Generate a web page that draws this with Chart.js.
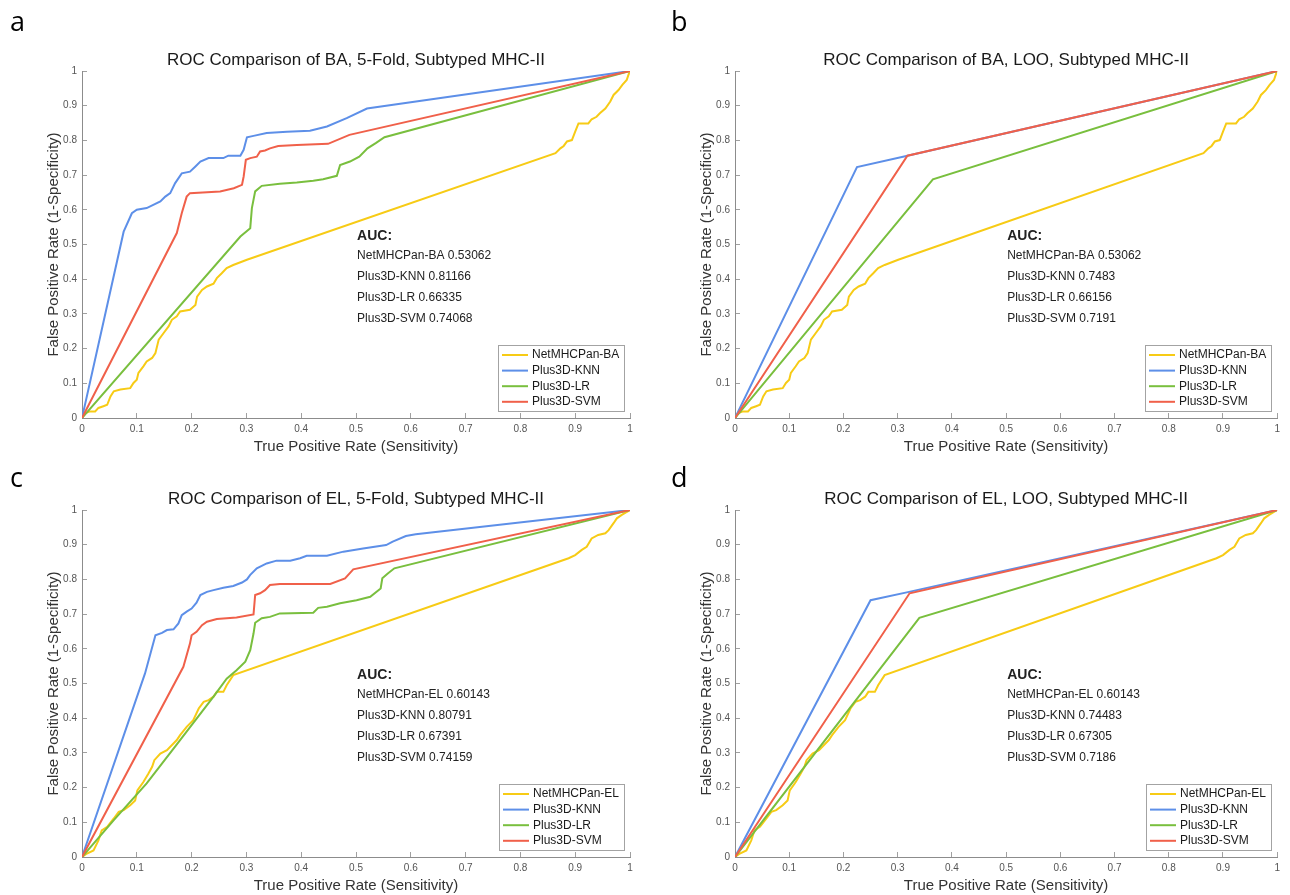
<!DOCTYPE html>
<html>
<head>
<meta charset="utf-8">
<title>ROC Comparison, Subtyped MHC-II</title>
<script src="https://cdn.jsdelivr.net/npm/chart.js@4.4.1/dist/chart.umd.min.js"></script>
<style>
    html, body { margin: 0; padding: 0; background: #fff; }
    #page { position: relative; width: 1290px; height: 895px; overflow: hidden; }
    #page canvas { position: absolute; }
    .letter {
        position: absolute;
        font-family: 'Open Sans', sans-serif;
        font-size: 27px;
        line-height: 1;
        color: #000;
    }
</style>
</head>
<body>
<div id="page">
    <canvas id="roc-a" width="645" height="460" style="left:0;top:0"></canvas>
    <canvas id="roc-b" width="645" height="460" style="left:645px;top:0"></canvas>
    <canvas id="roc-c" width="645" height="455" style="left:0;top:440px"></canvas>
    <canvas id="roc-d" width="645" height="455" style="left:645px;top:440px"></canvas>
    <div class="letter" style="left:10px;top:7px">a</div>
    <div class="letter" style="left:671px;top:7px">b</div>
    <div class="letter" style="left:10px;top:463px">c</div>
    <div class="letter" style="left:671px;top:463px">d</div>
</div>

<script>
// ---- data: [true positive rate, false positive rate] ----

const panelTitles = [
    'ROC Comparison of BA, 5-Fold, Subtyped MHC-II',
    'ROC Comparison of BA, LOO, Subtyped MHC-II',
    'ROC Comparison of EL, 5-Fold, Subtyped MHC-II',
    'ROC Comparison of EL, LOO, Subtyped MHC-II'
];

const modelsBA = ['NetMHCPan-BA', 'Plus3D-KNN', 'Plus3D-LR', 'Plus3D-SVM'];
const modelsEL = ['NetMHCPan-EL', 'Plus3D-KNN', 'Plus3D-LR', 'Plus3D-SVM'];

const auc5FoldBA = [0.53062, 0.81166, 0.66335, 0.74068];
const aucLooBA = [0.53062, 0.7483, 0.66156, 0.7191];
const auc5FoldEL = [0.60143, 0.80791, 0.67391, 0.74159];
const aucLooEL = [0.60143, 0.74483, 0.67305, 0.7186];

const tickValues = [0, 0.1, 0.2, 0.3, 0.4, 0.5, 0.6, 0.7, 0.8, 0.9, 1];

// NetMHCPan-BA (same curve in a and b)
const netMhcPanBA = [
    [0, 0], [0.006, 0.014], [0.015, 0.019], [0.024, 0.019], [0.03, 0.029], [0.039, 0.034],
    [0.046, 0.038], [0.052, 0.062], [0.058, 0.077], [0.07, 0.082], [0.088, 0.086], [0.094, 0.101],
    [0.1, 0.11], [0.103, 0.13], [0.112, 0.149], [0.118, 0.163], [0.128, 0.173], [0.134, 0.187],
    [0.14, 0.226], [0.149, 0.245], [0.158, 0.264], [0.164, 0.283], [0.173, 0.293], [0.179, 0.307],
    [0.197, 0.312], [0.207, 0.326], [0.21, 0.35], [0.219, 0.369], [0.228, 0.379], [0.24, 0.387],
    [0.246, 0.403], [0.255, 0.417], [0.264, 0.432], [0.276, 0.441], [0.301, 0.456], [0.864, 0.763],
    [0.873, 0.777], [0.879, 0.784], [0.885, 0.797], [0.894, 0.801], [0.9, 0.825], [0.906, 0.849],
    [0.924, 0.849], [0.93, 0.861], [0.939, 0.868], [0.945, 0.878], [0.955, 0.892], [0.964, 0.912],
    [0.97, 0.931], [0.979, 0.945], [0.986, 0.96], [0.994, 0.974], [0.997, 0.988], [1, 1]
];

const knn5FoldBA = [
    [0, 0], [0.076, 0.537], [0.091, 0.59], [0.1, 0.6], [0.118, 0.605], [0.143, 0.624],
    [0.152, 0.638], [0.161, 0.648], [0.17, 0.677], [0.182, 0.705], [0.197, 0.71], [0.207, 0.725],
    [0.216, 0.739], [0.231, 0.749], [0.258, 0.749], [0.267, 0.756], [0.289, 0.756], [0.295, 0.773],
    [0.301, 0.809], [0.313, 0.813], [0.337, 0.821], [0.374, 0.825], [0.416, 0.828], [0.447, 0.84],
    [0.483, 0.864], [0.52, 0.892], [1, 1]
];

const lr5FoldBA = [
    [0, 0], [0.289, 0.523], [0.307, 0.547], [0.31, 0.605], [0.316, 0.653], [0.328, 0.669],
    [0.361, 0.675], [0.392, 0.679], [0.422, 0.684], [0.44, 0.688], [0.465, 0.698], [0.471, 0.729],
    [0.489, 0.739], [0.506, 0.753], [0.521, 0.777], [0.536, 0.792], [0.552, 0.809], [1, 1]
];

const svm5FoldBA = [
    [0, 0], [0.173, 0.533], [0.182, 0.59], [0.191, 0.638], [0.197, 0.648], [0.252, 0.653],
    [0.277, 0.662], [0.292, 0.672], [0.295, 0.696], [0.299, 0.744], [0.307, 0.749], [0.319, 0.753],
    [0.325, 0.768], [0.334, 0.771], [0.343, 0.777], [0.358, 0.784], [0.392, 0.787], [0.449, 0.79],
    [0.488, 0.816], [1, 1]
];

const knnLooBA = [[0, 0], [0.225, 0.723], [0.318, 0.756], [1, 1]];
const lrLooBA = [[0, 0], [0.365, 0.688], [1, 1]];
const svmLooBA = [[0, 0], [0.318, 0.756], [1, 1]];

// NetMHCPan-EL (same curve in c and d)
const netMhcPanEL = [
    [0, 0], [0.009, 0.01], [0.021, 0.019], [0.03, 0.048], [0.036, 0.077], [0.046, 0.087],
    [0.058, 0.111], [0.067, 0.13], [0.076, 0.135], [0.088, 0.149], [0.097, 0.163], [0.101, 0.192],
    [0.112, 0.216], [0.121, 0.24], [0.128, 0.26], [0.132, 0.279], [0.143, 0.298], [0.155, 0.308],
    [0.173, 0.337], [0.179, 0.351], [0.191, 0.375], [0.203, 0.394], [0.213, 0.428], [0.222, 0.447],
    [0.231, 0.452], [0.24, 0.462], [0.246, 0.476], [0.258, 0.476], [0.264, 0.495], [0.276, 0.524],
    [0.888, 0.861], [0.9, 0.87], [0.912, 0.885], [0.921, 0.894], [0.93, 0.918], [0.942, 0.928],
    [0.955, 0.933], [0.961, 0.942], [0.97, 0.962], [0.976, 0.976], [0.985, 0.986], [1, 1]
];

const knn5FoldEL = [
    [0, 0], [0.115, 0.529], [0.134, 0.639], [0.146, 0.646], [0.155, 0.654], [0.167, 0.656],
    [0.176, 0.673], [0.182, 0.697], [0.191, 0.707], [0.2, 0.716], [0.209, 0.733], [0.216, 0.755],
    [0.228, 0.764], [0.24, 0.769], [0.258, 0.776], [0.276, 0.781], [0.292, 0.791], [0.301, 0.8],
    [0.307, 0.813], [0.319, 0.832], [0.337, 0.846], [0.355, 0.854], [0.38, 0.854], [0.398, 0.861],
    [0.41, 0.868], [0.447, 0.868], [0.477, 0.88], [0.513, 0.889], [0.555, 0.899], [0.567, 0.909],
    [0.591, 0.925], [0.609, 0.93], [1, 1]
];

const lr5FoldEL = [
    [0, 0], [0.058, 0.106], [0.118, 0.212], [0.179, 0.337], [0.24, 0.462], [0.264, 0.514],
    [0.282, 0.538], [0.298, 0.563], [0.307, 0.596], [0.313, 0.644], [0.316, 0.675], [0.328, 0.688],
    [0.343, 0.692], [0.361, 0.702], [0.422, 0.704], [0.431, 0.718], [0.447, 0.721], [0.471, 0.731],
    [0.501, 0.74], [0.526, 0.75], [0.545, 0.774], [0.548, 0.803], [0.558, 0.817], [0.57, 0.832],
    [1, 1]
];

const svm5FoldEL = [
    [0, 0], [0.185, 0.548], [0.197, 0.615], [0.2, 0.639], [0.209, 0.649], [0.219, 0.668],
    [0.228, 0.678], [0.246, 0.686], [0.282, 0.69], [0.313, 0.699], [0.316, 0.755], [0.325, 0.76],
    [0.334, 0.769], [0.343, 0.784], [0.361, 0.787], [0.453, 0.787], [0.48, 0.803], [0.495, 0.829],
    [1, 1]
];

const knnLooEL = [[0, 0], [0.25, 0.74], [0.321, 0.764], [1, 1]];
const lrLooEL = [[0, 0], [0.34, 0.689], [1, 1]];
const svmLooEL = [[0, 0], [0.322, 0.76], [1, 1]];

// ---- styling ----

const seriesColors = ['#F7CB15', '#5D8FE8', '#79BF3E', '#F0604A'];
const FONT = '"Liberation Sans", Arial, Helvetica, sans-serif';
Chart.defaults.font.family = FONT;

/**
 * AUC summary written inside the plot, anchored at a data position
 */
const aucNotePlugin = {
    id: 'aucNote',
    afterDraw(chart, args, opts) {
        const { ctx, scales: { x, y } } = chart;
        const left = x.getPixelForValue(opts.at[0]);
        const top = y.getPixelForValue(opts.at[1]);

        ctx.save();
        ctx.fillStyle = '#222';
        ctx.textAlign = 'left';
        ctx.textBaseline = 'middle';
        ctx.font = 'bold 14px ' + FONT;
        ctx.fillText('AUC:', left, top);
        ctx.font = '12px ' + FONT;
        opts.lines.forEach((line, i) => ctx.fillText(line, left, top + 20 + i * 21));
        ctx.restore();
    }
};

/**
 * Boxed legend in the lower right corner of the plot
 */
const boxLegendPlugin = {
    id: 'boxLegend',
    afterDraw(chart) {
        const { ctx, chartArea } = chart;
        const items = chart.data.datasets;
        const rowH = 15.6;

        ctx.save();
        ctx.font = '12px ' + FONT;
        const textW = Math.max(...items.map(d => ctx.measureText(d.label).width));
        const w = Math.round(34 + textW + 5);
        const h = Math.round(items.length * rowH + 3.5);
        const bx = Math.round(chartArea.right - 6 - w);
        const by = Math.round(chartArea.bottom - 7 - h);

        ctx.fillStyle = '#fff';
        ctx.fillRect(bx, by, w, h);
        ctx.strokeStyle = '#a3a3a3';
        ctx.lineWidth = 1;
        ctx.strokeRect(bx + 0.5, by + 0.5, w, h);

        items.forEach((d, i) => {
            const cy = by + 2.2 + rowH * (i + 0.5);
            ctx.strokeStyle = d.borderColor;
            ctx.lineWidth = 2;
            ctx.beginPath();
            ctx.moveTo(bx + 4, cy);
            ctx.lineTo(bx + 30, cy);
            ctx.stroke();
            ctx.fillStyle = '#1a1a1a';
            ctx.textAlign = 'left';
            ctx.textBaseline = 'middle';
            ctx.fillText(d.label, bx + 34, cy);
        });
        ctx.restore();
    }
};

/**
 * Shared axis settings (MATLAB look: ticks point inward, no box)
 */
function axisOptions(titleText, titlePadding, fitSize, horizontal) {
    return {
        type: 'linear',
        min: 0,
        max: 1,
        afterBuildTicks: (scale) => {
            scale.ticks = tickValues.map(v => ({ value: v }));
        },
        ticks: {
            color: '#555',
            font: { size: 10 },
            padding: 10,
            maxRotation: 0,
            autoSkip: false,
            callback: (v) => String(Math.round(v * 10) / 10)
        },
        grid: {
            drawOnChartArea: false,
            drawTicks: true,
            tickLength: -5,
            color: '#a0a0a0'
        },
        border: { display: true, color: '#8c8c8c', width: 1 },
        title: {
            display: true,
            text: titleText,
            color: '#333',
            font: { size: 15 },
            padding: titlePadding
        },
        afterFit: (scale) => {
            if (horizontal) scale.height = fitSize;
            else scale.width = fitSize;
        }
    };
}

/**
 * Build one ROC panel
 */
function buildRocChart(canvasId, title, models, aucValues, curves, layout) {
    const ctx = document.getElementById(canvasId);

    const datasets = curves.map((points, i) => ({
        label: models[i],
        data: points.map(([x, y]) => ({ x, y })),
        borderColor: seriesColors[i],
        backgroundColor: seriesColors[i],
        borderWidth: 2,
        pointRadius: 0,
        tension: 0,
        fill: false,
        order: curves.length - i   // later series drawn on top, like MATLAB
    }));

    return new Chart(ctx, {
        type: 'line',
        data: { datasets },
        plugins: [aucNotePlugin, boxLegendPlugin],
        options: {
            responsive: false,
            animation: false,
            events: [],
            layout: { padding: { left: 0, top: 0, right: layout.rightPad, bottom: 0 } },
            plugins: {
                legend: { display: false },
                tooltip: { enabled: false },
                title: {
                    display: true,
                    text: title,
                    fullSize: false,
                    color: '#1a1a1a',
                    font: { size: 17, weight: 'normal' },
                    padding: { top: layout.titleTop, bottom: 0 }
                },
                aucNote: {
                    at: [0.502, 0.524],
                    lines: models.map((m, i) => `${m} ${aucValues[i]}`)
                }
            },
            scales: {
                x: axisOptions('True Positive Rate (Sensitivity)',
                    { top: 0, bottom: layout.xTitleBottom }, layout.xHeight, true),
                y: axisOptions('False Positive Rate (1-Specificity)',
                    { top: layout.yTitleTop, bottom: 0 }, layout.yWidth, false)
            }
        }
    });
}

const layoutTopLeft = { rightPad: 15, titleTop: 50.6, xHeight: 42, xTitleBottom: 4, yWidth: 82, yTitleTop: 45 };
const layoutTopRight = { rightPad: 5, titleTop: 50.6, xHeight: 42, xTitleBottom: 4, yWidth: 90, yTitleTop: 53 };
const layoutBottomLeft = { rightPad: 15, titleTop: 49.6, xHeight: 38, xTitleBottom: 0, yWidth: 82, yTitleTop: 45 };
const layoutBottomRight = { rightPad: 5, titleTop: 49.6, xHeight: 38, xTitleBottom: 0, yWidth: 90, yTitleTop: 53 };

buildRocChart('roc-a', panelTitles[0], modelsBA, auc5FoldBA,
    [netMhcPanBA, knn5FoldBA, lr5FoldBA, svm5FoldBA], layoutTopLeft);
buildRocChart('roc-b', panelTitles[1], modelsBA, aucLooBA,
    [netMhcPanBA, knnLooBA, lrLooBA, svmLooBA], layoutTopRight);
buildRocChart('roc-c', panelTitles[2], modelsEL, auc5FoldEL,
    [netMhcPanEL, knn5FoldEL, lr5FoldEL, svm5FoldEL], layoutBottomLeft);
buildRocChart('roc-d', panelTitles[3], modelsEL, aucLooEL,
    [netMhcPanEL, knnLooEL, lrLooEL, svmLooEL], layoutBottomRight);
</script>
</body>
</html>
